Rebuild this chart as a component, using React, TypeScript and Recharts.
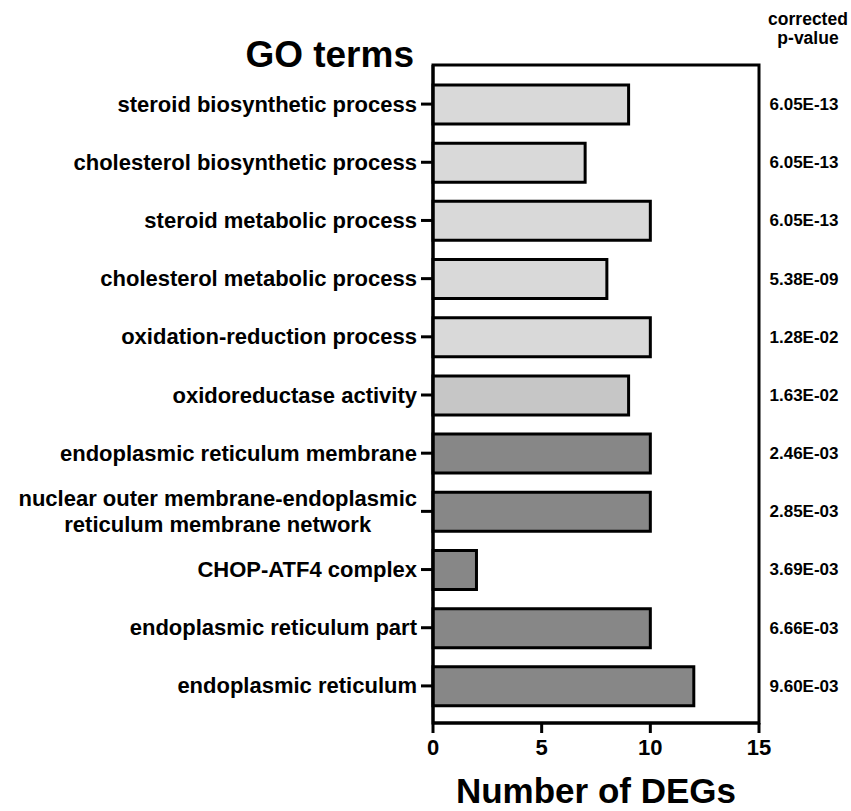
import React from "react";
import { BarChart, Bar, XAxis, YAxis, LabelList, Cell } from "recharts";

// GO-term enrichment: number of DEGs per term, with corrected p-value column.
const terms = [
  "steroid biosynthetic process",
  "cholesterol biosynthetic process",
  "steroid metabolic process",
  "cholesterol metabolic process",
  "oxidation-reduction process",
  "oxidoreductase activity",
  "endoplasmic reticulum membrane",
  "nuclear outer membrane-endoplasmic reticulum membrane network",
  "CHOP-ATF4 complex",
  "endoplasmic reticulum part",
  "endoplasmic reticulum",
];
const degCounts = [9, 7, 10, 8, 10, 9, 10, 10, 2, 10, 12];
const pValues = [
  "6.05E-13", "6.05E-13", "6.05E-13", "5.38E-09", "1.28E-02", "1.63E-02",
  "2.46E-03", "2.85E-03", "3.69E-03", "6.66E-03", "9.60E-03",
];
const ontology = ["BP", "BP", "BP", "BP", "BP", "MF", "CC", "CC", "CC", "CC", "CC"];
const xTicks = [0, 5, 10, 15];

const FILL: Record<string, string> = { BP: "#d9d9d9", MF: "#c6c6c6", CC: "#878787" };
const FONT = '"Liberation Sans", Arial, Helvetica, sans-serif';
const W = 851, H = 811;
const YW = 433, XH = 88;
const M = { top: 65, right: 92, bottom: 0, left: 0 };
const PLOT_RIGHT = W - M.right;

const data = terms.map((term, i) => ({ term, n: degCounts[i], p: pValues[i], go: ontology[i] }));

let ctx: CanvasRenderingContext2D | null = null;
function measure(s: string, font: string) {
  if (!ctx) ctx = document.createElement("canvas").getContext("2d");
  if (!ctx) return s.length * 11;
  ctx.font = font;
  return ctx.measureText(s).width;
}

function wrap(s: string, max: number) {
  const out: string[] = [];
  let cur = "";
  for (const w of s.split(" ")) {
    if (cur && (cur + " " + w).length > max) { out.push(cur); cur = w; }
    else cur = cur ? cur + " " + w : w;
  }
  if (cur) out.push(cur);
  return out;
}

function TermTick({ x, y, payload }: any) {
  const lines = wrap(payload.value, 34);
  const size = 22;
  if (lines.length === 1) {
    return (
      <text x={x} y={y} textAnchor="end" dominantBaseline="central" fontFamily={FONT} fontWeight="bold" fontSize={size} fill="#000">
        {payload.value}
      </text>
    );
  }
  const widest = Math.max(...lines.map((l) => measure(l, `bold ${size}px ${FONT}`)));
  const cx = x - widest / 2;
  const lh = 26;
  return (
    <g>
      {lines.map((l, i) => (
        <text key={i} x={cx} y={y + (i - (lines.length - 1) / 2) * lh} textAnchor="middle" dominantBaseline="central"
          fontFamily={FONT} fontWeight="bold" fontSize={size} fill="#000">{l}</text>
      ))}
    </g>
  );
}

function YTitle({ viewBox }: any) {
  const { x, y, width } = viewBox;
  return (
    <g fontFamily={FONT} fontWeight="bold" fill="#000">
      <text x={x + width - 19} y={y + 2} textAnchor="end" fontSize={37}>GO terms</text>
      <text x={PLOT_RIGHT + 49} y={25} textAnchor="middle" fontSize={17.5}>corrected</text>
      <text x={PLOT_RIGHT + 49} y={44} textAnchor="middle" fontSize={17.5}>p-value</text>
    </g>
  );
}

function XTitle({ viewBox }: any) {
  const { x, y, width } = viewBox;
  return (
    <text x={x + width / 2} y={y + 80} textAnchor="middle" fontFamily={FONT} fontWeight="bold" fontSize={35} fill="#000">
      Number of DEGs
    </text>
  );
}

function PLabel({ y, height, value }: any) {
  return (
    <text x={PLOT_RIGHT + 45} y={y + height / 2} textAnchor="middle" dominantBaseline="central"
      fontFamily={FONT} fontWeight="bold" fontSize={17} fill="#000">{value}</text>
  );
}

export default function App() {
  return (
    <div style={{ position: "absolute", left: 0, top: 0, width: W, height: H, background: "#fff" }}>
      <BarChart width={W} height={H} data={data} layout="vertical" margin={M} barSize={39}>
        <rect x={YW} y={M.top} width={PLOT_RIGHT - YW} height={H - M.top - XH} fill="none" stroke="#000" strokeWidth={3} />
        <XAxis type="number" domain={[0, 15]} ticks={xTicks} height={XH}
          axisLine={{ stroke: "#000", strokeWidth: 3 }} tickLine={{ stroke: "#000", strokeWidth: 3 }} tickSize={10} tickMargin={6}
          tick={{ fill: "#000", fontSize: 22, fontWeight: "bold", fontFamily: FONT }} label={<XTitle />} />
        <YAxis type="category" dataKey="term" width={YW} padding={{ top: 10, bottom: 8 }}
          axisLine={{ stroke: "#000", strokeWidth: 3 }} tickLine={{ stroke: "#000", strokeWidth: 3 }} tickSize={12} tickMargin={4}
          tick={<TermTick />} interval={0} label={<YTitle />} />
        <Bar dataKey="n" stroke="#000" strokeWidth={3} isAnimationActive={false}>
          {data.map((d, i) => <Cell key={i} fill={FILL[d.go]} />)}
          <LabelList dataKey="p" content={<PLabel />} />
        </Bar>
      </BarChart>
    </div>
  );
}
